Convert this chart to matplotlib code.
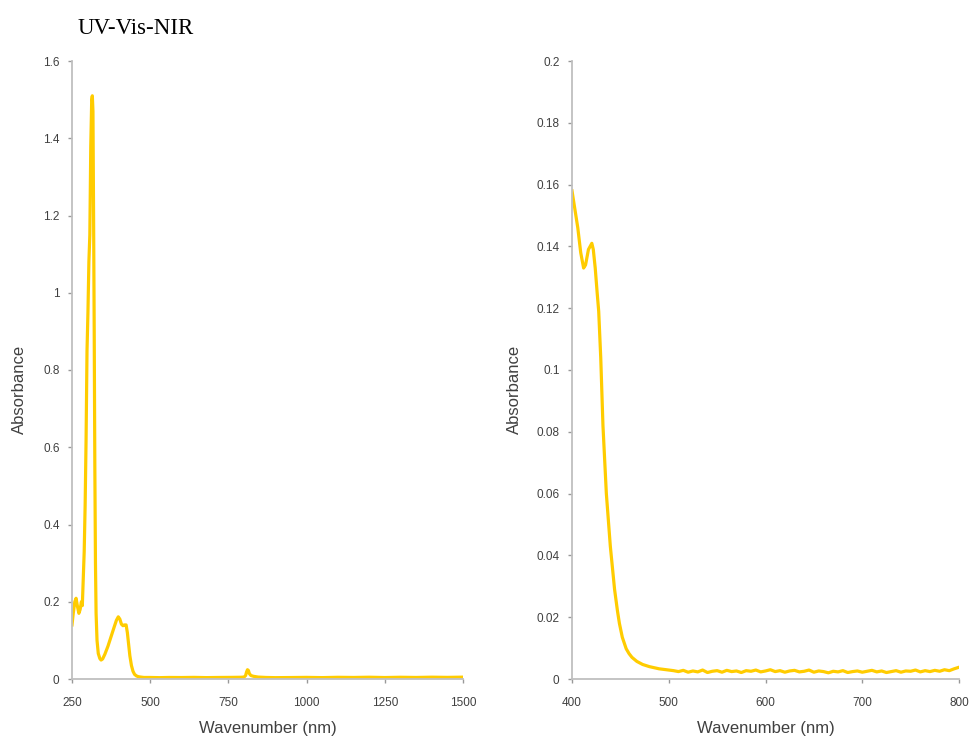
import matplotlib
matplotlib.use('Agg')
import matplotlib.pyplot as plt
from matplotlib.ticker import FuncFormatter

# Spektrum lebar (250 - 1500 nm)
wide_nm = [250, 254, 259, 263, 267, 272, 276, 280, 283, 286, 289, 292, 295, 298,
           301, 304, 307, 310, 313, 315, 317, 319, 321, 323, 325, 327, 330, 334,
           339, 343, 348, 355, 365, 375, 385, 392, 398, 403, 408, 413, 418, 423,
           427, 431, 435, 440, 445, 450, 456, 462, 470, 480, 500, 530, 560, 600,
           640, 680, 720, 760, 790, 800, 805, 808, 811, 814, 817, 822, 830, 845,
           870, 900, 950, 1000, 1050, 1100, 1150, 1200, 1250, 1300, 1350, 1400,
           1450, 1500]
wide_abs = [0.14, 0.17, 0.20, 0.209, 0.19, 0.17, 0.18, 0.20, 0.19, 0.26, 0.33,
            0.45, 0.62, 0.85, 0.95, 1.08, 1.15, 1.38, 1.50, 1.51, 1.47, 1.2, 0.9,
            0.55, 0.3, 0.17, 0.10, 0.066, 0.053, 0.049, 0.052, 0.064, 0.085,
            0.11, 0.135, 0.152, 0.161, 0.155, 0.142, 0.138, 0.140, 0.140, 0.12,
            0.09, 0.06, 0.035, 0.02, 0.012, 0.008, 0.006, 0.005, 0.004, 0.004,
            0.0035, 0.004, 0.0038, 0.0042, 0.0036, 0.004, 0.0042, 0.0045, 0.005,
            0.009, 0.018, 0.024, 0.022, 0.014, 0.009, 0.007, 0.005, 0.004, 0.0035,
            0.0038, 0.0042, 0.0036, 0.0044, 0.004, 0.0046, 0.0038, 0.0045, 0.004,
            0.0047, 0.0042, 0.0048]

# Spektrum dekat (400 - 800 nm)
zoom_nm = [400, 403, 406, 409, 412, 414, 417, 420.5, 422, 424, 426, 427.6, 429.7,
           432, 435.5, 439.6, 444, 447, 449, 452, 456, 459, 462, 467, 473, 480,
           490, 500,
           505, 510, 515, 520, 525, 530, 535, 540, 545, 550, 555, 560, 565, 570,
           575, 580, 585, 590, 595, 600, 605, 610, 615, 620, 625, 630, 635, 640,
           645, 650, 655, 660, 665, 670, 675, 680, 685, 690, 695, 700, 705, 710,
           715, 720, 725, 730, 735, 740, 745, 750, 755, 760, 765, 770, 775, 780,
           785, 790, 795, 800]
zoom_abs = [0.158, 0.152, 0.146, 0.138, 0.133, 0.134, 0.139, 0.141, 0.139, 0.133,
            0.125, 0.119, 0.104, 0.082, 0.060, 0.043, 0.029, 0.022, 0.018,
            0.0135, 0.0098, 0.0082, 0.0070, 0.0057, 0.0047, 0.0040, 0.0033,
            0.0029,
            0.0027, 0.0024, 0.0028, 0.0022, 0.0026, 0.0023, 0.0029, 0.0021,
            0.0025, 0.0027, 0.0022, 0.0028, 0.0024, 0.0026, 0.0021, 0.0027,
            0.0025, 0.0029, 0.0023, 0.0026, 0.0030, 0.0024, 0.0027, 0.0022,
            0.0026, 0.0028, 0.0023, 0.0025, 0.0029, 0.0022, 0.0026, 0.0024,
            0.0020, 0.0025, 0.0023, 0.0027, 0.0021, 0.0024, 0.0026, 0.0022,
            0.0025, 0.0028, 0.0023, 0.0026, 0.0021, 0.0024, 0.0027, 0.0022,
            0.0026, 0.0025, 0.0029, 0.0023, 0.0027, 0.0024, 0.0028, 0.0025,
            0.0030, 0.0027, 0.0033, 0.0038]

wide_xticks = [250, 500, 750, 1000, 1250, 1500]
wide_yticks = [0, 0.2, 0.4, 0.6, 0.8, 1.0, 1.2, 1.4, 1.6]
zoom_xticks = [400, 500, 600, 700, 800]
zoom_yticks = [0, 0.02, 0.04, 0.06, 0.08, 0.1, 0.12, 0.14, 0.16, 0.18, 0.2]

LINE = '#FFCC00'
SPINE = '#BFBFBF'
TXT = '#404040'
plt.rcParams['font.family'] = ['Liberation Sans', 'DejaVu Sans']


def fmt(v, pos):
    s = ('%.2f' % v).rstrip('0').rstrip('.')
    return s


def style_axes(ax):
    for side in ['top', 'right']:
        ax.spines[side].set_visible(False)
    for side in ['left', 'bottom']:
        ax.spines[side].set_color(SPINE)
        ax.spines[side].set_linewidth(1.3)
    ax.tick_params(axis='both', direction='out', length=3, width=1,
                   color='#999999', labelcolor=TXT, labelsize=8.5)
    ax.tick_params(axis='x', pad=10)
    ax.tick_params(axis='y', pad=6)
    ax.yaxis.set_major_formatter(FuncFormatter(fmt))
    ax.set_xlabel('Wavenumber (nm)', fontsize=12, color=TXT)
    ax.set_ylabel('Absorbance', fontsize=12, color=TXT)


fig = plt.figure(figsize=(9.75, 7.42), dpi=100)
ax1 = fig.add_axes([72 / 975, 63 / 742, 391 / 975, 618 / 742])
ax2 = fig.add_axes([572 / 975, 63 / 742, 387 / 975, 618 / 742])

ax1.plot(wide_nm, wide_abs, color=LINE, lw=2.3, solid_joinstyle='round')
ax1.set_xlim(250, 1500)
ax1.set_ylim(0, 1.6)
ax1.set_xticks(wide_xticks)
ax1.set_yticks(wide_yticks)
style_axes(ax1)
ax1.xaxis.set_label_coords(0.5, -0.068)
ax1.yaxis.set_label_coords(-0.115, 0.468)

ax2.plot(zoom_nm, zoom_abs, color=LINE, lw=2.3, solid_joinstyle='round')
ax2.set_xlim(400, 800)
ax2.set_ylim(0, 0.2)
ax2.set_xticks(zoom_xticks)
ax2.set_yticks(zoom_yticks)
style_axes(ax2)
ax2.xaxis.set_label_coords(0.5, -0.068)
ax2.yaxis.set_label_coords(-0.129, 0.468)

fig.text(78 / 975, 1 - 28 / 742, 'UV-Vis-NIR', family='Liberation Serif',
         fontsize=16.5, va='center', ha='left', color='black')

fig.savefig('out.png', dpi=100)
